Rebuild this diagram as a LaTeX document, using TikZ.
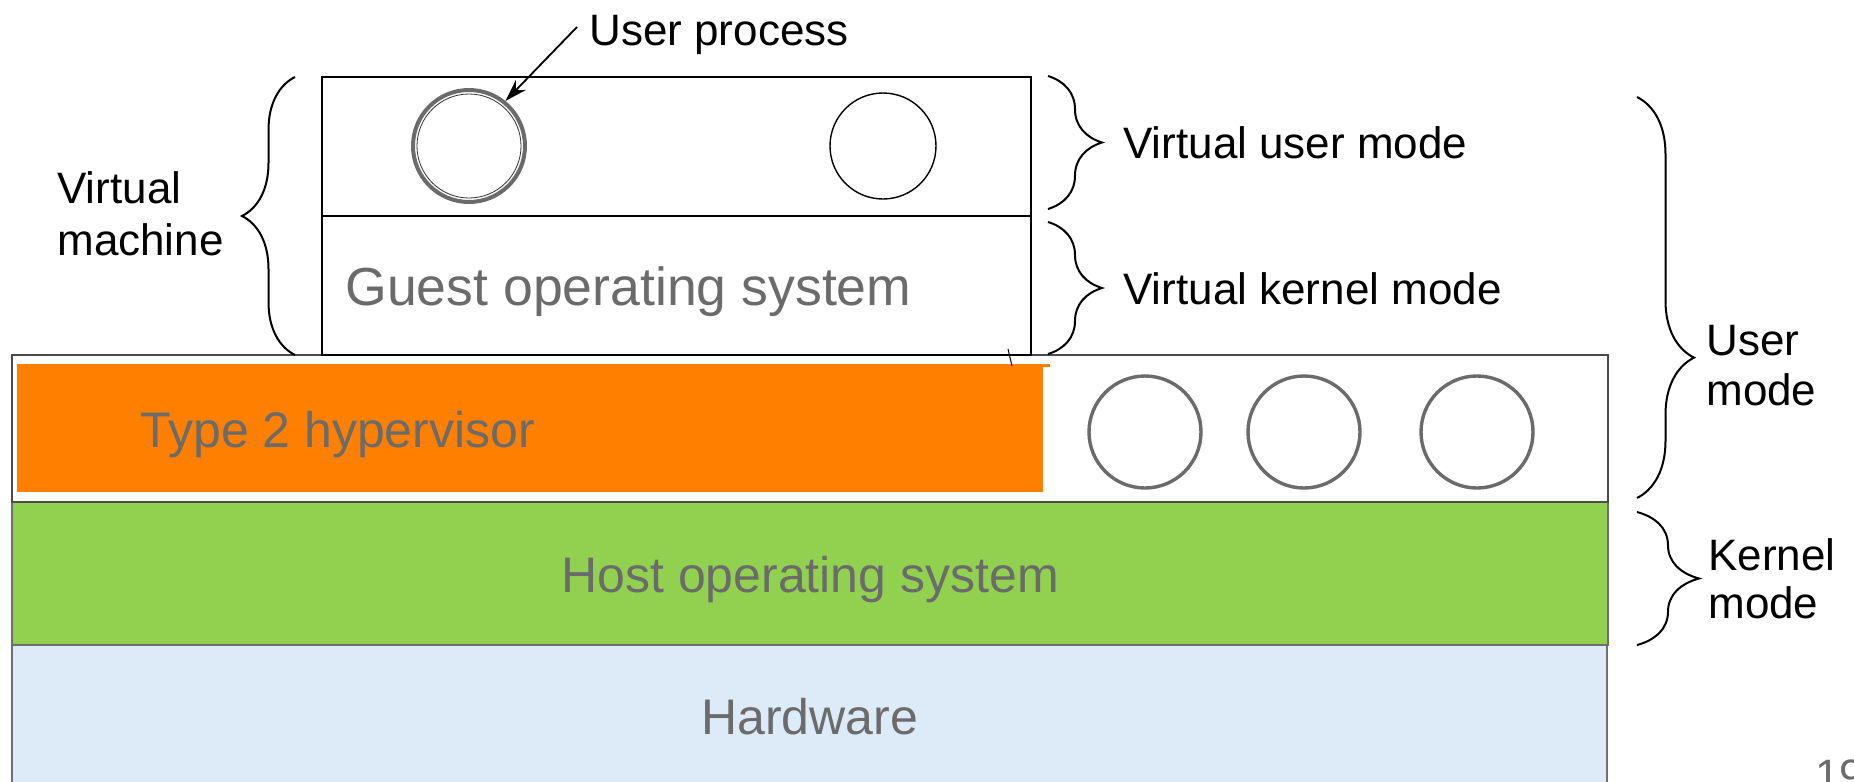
\documentclass[tikz,border=0pt]{standalone}
\usepackage{fontspec}
\setmainfont{Liberation Sans}
\usetikzlibrary{decorations.pathreplacing,arrows.meta}
\definecolor{txtgray}{HTML}{6B6B6B}
\definecolor{hwblue}{HTML}{DDEBF9}
\definecolor{hostgreen}{HTML}{92D050}
\definecolor{hvorange}{HTML}{FF7F00}
\definecolor{edgegray}{HTML}{6E6E6E}
\definecolor{darkedge}{HTML}{4A4A4A}
\begin{document}
\begin{tikzpicture}[x=0.5pt,y=-0.5pt,
  lbl/.style={inner sep=0pt, anchor=base west, font=\fontsize{22}{26}\selectfont},
  glbl/.style={inner sep=0pt, anchor=base west, text=txtgray, font=\fontsize{25}{30}\selectfont},
  brc/.style={decorate, decoration={brace, amplitude=#1}, line width=1pt},
  gproc/.style={circle, draw=txtgray, line width=1.7pt, minimum size=56pt, inner sep=0pt},
  vproc/.style={circle, draw=black, line width=0.7pt, minimum size=53pt, inner sep=0pt}]
\useasboundingbox (0,0) rectangle (1854,782);
\fill[white] (0,0) rectangle (1854,782);
% layers
\filldraw[fill=hwblue, draw=edgegray, line width=0.8pt] (12,645) rectangle (1607,800);
\filldraw[fill=hostgreen, draw=edgegray, line width=1pt] (12,502) rectangle (1608,645);
\filldraw[fill=white, draw=darkedge, line width=1.4pt] (12,355) rectangle (1608,502);
\fill[hvorange] (17,364) rectangle (1043,492);
\fill[hvorange] (1043,364) rectangle (1050,367);
% virtual machine box
\draw[line width=1pt] (322,77) rectangle (1031,355);
\draw[line width=1pt] (322,216) -- (1031,216);
\draw[line width=0.5pt] (1008,349) -- (1012,366);
% processes
\node[gproc, line width=2pt] (c1) at (469,146) {};
\node[circle, draw=black!80, line width=0.4pt, minimum size=52pt, inner sep=0pt] (c1in) at (469,146) {};
\node[vproc] (c2) at (883,146) {};
\node[gproc] (h1) at (1145,432) {};
\node[gproc] (h2) at (1304,432) {};
\node[gproc] (h3) at (1477,432) {};
% labels
\node[lbl] (uplabel) at (589,45) {User process};
\coordinate (upstart) at (577,27);
\draw[line width=0.9pt, -{Stealth[length=11pt,width=7pt]}] (upstart) -- (c1.51);
\node[lbl] (vm1) at (57,203) {Virtual};
\node[lbl] (vm2) at (57,255) {machine};
\node[lbl] (vum) at (1123,158) {Virtual user mode};
\node[lbl] (vkm) at (1123,304) {Virtual kernel mode};
\node[lbl] (um1) at (1706,355) {User};
\node[lbl] (um2) at (1706,405) {mode};
\node[lbl] (km1) at (1708,570) {Kernel};
\node[lbl] (km2) at (1708,618) {mode};
\node[glbl, font=\fontsize{26.8}{30}\selectfont] (guest) at (345,305) {Guest operating system};
\node[glbl] (hyp) at (140,447) {Type 2 hypervisor};
\node[glbl] (host) at (561,592) {Host operating system};
\node[glbl] (hw) at (701,734) {Hardware};
\node[glbl, font=\fontsize{22}{26}\selectfont] (pg) at (1815,790) {19};
% braces
\draw[brc=26.5pt] (295,355) -- (295,77);
\draw[brc=27pt] (1048,76) -- (1048,209);
\draw[brc=27pt] (1048,222) -- (1048,354);
\draw[decorate, decoration={brace, amplitude=28.5pt, aspect=0.65}, line width=1pt] (1637,97) -- (1637,498);
\draw[brc=31pt] (1637,512) -- (1637,645);
\end{tikzpicture}
\end{document}
